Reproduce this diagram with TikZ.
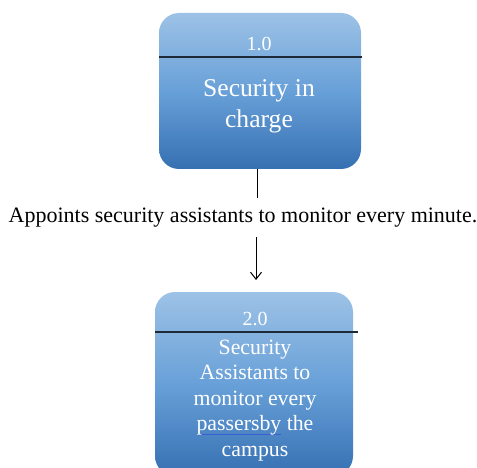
\documentclass[tikz,border=0pt]{standalone}
\usepackage{fontspec}
\setmainfont{Liberation Serif}
\usetikzlibrary{arrows.meta}
\definecolor{boxtop}{HTML}{9DC2E6}
\definecolor{boxmid}{HTML}{68A0D8}
\definecolor{boxbot}{HTML}{3670B2}
\definecolor{uline}{HTML}{3A5FD0}
\definecolor{divcol}{HTML}{1E2A38}
\newcommand\blueul[1]{\leavevmode\setbox0\hbox{#1}\rlap{\textcolor{uline}{\rule[-4pt]{\wd0}{1.2pt}}}\box0\relax}
\begin{document}
\begin{tikzpicture}[x=1pt,y=-1pt,
  procbox/.style={rounded corners=20pt, top color=boxtop, bottom color=boxbot, middle color=boxmid, draw=none, inner sep=0pt},
  divider/.style={line width=1.3pt, divcol},
  boxtxt/.style={text=white, align=center, inner sep=0pt},
  conn/.style={line width=1pt, black}
]
\useasboundingbox (0,0) rectangle (477,468);
\clip (0,0) rectangle (477,468);
% process 1
\node[procbox, minimum width=202pt, minimum height=156pt] (p1) at (260,91) {};
\draw[divider] (159,57) -- (362,57);
\node[boxtxt, font=\fontsize{20}{24}\selectfont] (p1num) at (259,44) {1.0};
\node[boxtxt, font=\fontsize{25.6}{31.5}\selectfont] (p1txt) at (259,106.5) {Security in\\charge};
% process 2
\node[procbox, minimum width=198pt, minimum height=184pt] (p2) at (254,384) {};
\draw[divider] (155,332) -- (358,332);
\node[boxtxt, font=\fontsize{20}{24}\selectfont] (p2num) at (255,319) {2.0};
\node[boxtxt, font=\fontsize{21.8}{25.4}\selectfont] (p2txt) at (255,400.5) {Security\\Assistants to\\monitor every\\\blueul{passersby} the\\campus};
% label
\node[font=\fontsize{22}{25}\selectfont, inner sep=0pt] (lbl) at (243,218) {Appoints security assistants to monitor every minute.};
\coordinate (c1) at (257,169);
\coordinate (c2) at (257,198);
\coordinate (c3) at (256,237);
\coordinate (c4) at (256,280);
\draw[conn] (c1) -- (c2);
\draw[conn, -{Straight Barb[length=7pt,width=11pt]}] (c3) -- (c4);
\end{tikzpicture}
\end{document}
